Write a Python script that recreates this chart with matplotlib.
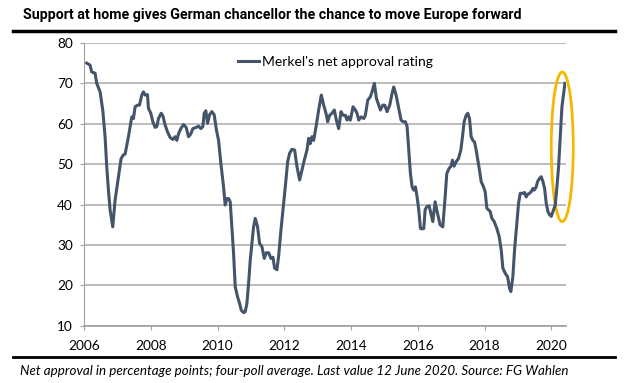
import matplotlib
matplotlib.use('Agg')
import matplotlib.pyplot as plt
from matplotlib.lines import Line2D
from matplotlib.patches import Ellipse

# data (decimal year, net approval)
years = [2006.08, 2006.18, 2006.23, 2006.33, 2006.38, 2006.48, 2006.56, 2006.63, 2006.68, 2006.73,
         2006.78, 2006.86, 2006.93, 2007.03, 2007.11, 2007.18, 2007.23, 2007.33, 2007.43, 2007.48,
         2007.53, 2007.60, 2007.66, 2007.73, 2007.78, 2007.83, 2007.90, 2007.93, 2008.00, 2008.06,
         2008.13, 2008.18, 2008.23, 2008.31, 2008.36, 2008.43, 2008.50, 2008.58, 2008.66, 2008.73,
         2008.78, 2008.83, 2008.90, 2008.98, 2009.06, 2009.13, 2009.20, 2009.26, 2009.36, 2009.43,
         2009.50, 2009.56, 2009.60, 2009.65, 2009.70, 2009.76, 2009.83, 2009.90, 2009.96, 2010.03,
         2010.10, 2010.18, 2010.23, 2010.28, 2010.33, 2010.38, 2010.43, 2010.48, 2010.53, 2010.60,
         2010.66, 2010.71, 2010.78, 2010.83, 2010.88, 2010.93, 2010.98, 2011.08, 2011.13, 2011.20,
         2011.26, 2011.33, 2011.40, 2011.46, 2011.53, 2011.60, 2011.66, 2011.71, 2011.78, 2011.83,
         2011.90, 2011.98, 2012.05, 2012.10, 2012.16, 2012.23, 2012.31, 2012.38, 2012.46, 2012.53,
         2012.60, 2012.68, 2012.73, 2012.78, 2012.83, 2012.88, 2012.95, 2013.03, 2013.11, 2013.18,
         2013.25, 2013.30, 2013.36, 2013.43, 2013.50, 2013.56, 2013.63, 2013.70, 2013.76, 2013.83,
         2013.88, 2013.93, 2013.98, 2014.06, 2014.13, 2014.18, 2014.23, 2014.30, 2014.38, 2014.43,
         2014.50, 2014.58, 2014.63, 2014.70, 2014.76, 2014.83, 2014.88, 2014.95, 2015.01, 2015.08,
         2015.16, 2015.23, 2015.28, 2015.35, 2015.43, 2015.50, 2015.56, 2015.63, 2015.68, 2015.73,
         2015.78, 2015.83, 2015.88, 2015.93, 2015.98, 2016.03, 2016.08, 2016.13, 2016.18, 2016.22,
         2016.27, 2016.34, 2016.45, 2016.52, 2016.59, 2016.67, 2016.75, 2016.82, 2016.87, 2016.94,
         2016.99, 2017.04, 2017.09, 2017.15, 2017.22, 2017.29, 2017.34, 2017.39, 2017.45, 2017.50,
         2017.55, 2017.60, 2017.65, 2017.70, 2017.75, 2017.80, 2017.85, 2017.90, 2017.97, 2018.02,
         2018.07, 2018.12, 2018.17, 2018.22, 2018.29, 2018.37, 2018.44, 2018.50, 2018.55, 2018.62,
         2018.69, 2018.75, 2018.79, 2018.85, 2018.90, 2018.95, 2019.02, 2019.07, 2019.15, 2019.20,
         2019.25, 2019.30, 2019.35, 2019.40, 2019.45, 2019.49, 2019.55, 2019.59, 2019.65, 2019.70,
         2019.75, 2019.80, 2019.85, 2019.90, 2019.95, 2020.00, 2020.05, 2020.12, 2020.17, 2020.22,
         2020.27, 2020.32, 2020.37, 2020.41]
approval = [75.0, 74.5, 72.8, 72.5, 70.0, 67.9, 63.4, 56.8, 49.4, 43.6,
            38.7, 34.5, 41.1, 46.9, 51.4, 52.3, 52.5, 56.8, 61.7, 61.3,
            64.2, 64.6, 64.6, 67.1, 67.9, 67.1, 67.2, 63.8, 62.6, 60.5,
            59.1, 59.3, 61.3, 62.6, 62.0, 59.7, 58.0, 56.6, 56.1, 56.8,
            55.9, 57.5, 58.8, 59.8, 59.1, 56.8, 57.5, 58.8, 59.1, 59.4,
            58.8, 59.3, 62.6, 63.2, 60.1, 62.2, 63.0, 62.2, 58.8, 55.9,
            50.2, 44.4, 39.9, 41.5, 41.5, 40.7, 34.5, 28.0, 19.7, 17.2,
            15.6, 13.9, 13.3, 13.5, 15.6, 20.5, 26.3, 34.5, 36.6, 34.5,
            30.4, 29.6, 26.7, 28.1, 28.1, 26.7, 27.0, 24.3, 23.9, 27.2,
            33.7, 40.3, 46.1, 50.6, 52.7, 53.7, 53.5, 49.4, 46.1, 48.5,
            51.0, 53.5, 56.4, 55.1, 56.8, 55.9, 59.2, 63.4, 67.1, 64.6,
            62.6, 60.5, 62.1, 62.6, 63.4, 60.9, 58.8, 63.0, 62.1, 62.1,
            60.9, 61.7, 60.9, 64.2, 63.4, 62.6, 60.9, 61.7, 61.3, 62.1,
            65.8, 66.7, 67.9, 70.0, 66.3, 64.6, 63.4, 64.6, 64.6, 63.0,
            64.6, 67.5, 69.1, 67.1, 63.8, 60.9, 60.5, 60.5, 59.3, 53.5,
            47.7, 44.4, 43.6, 44.4, 41.9, 38.7, 34.1, 34.0, 34.1, 38.7,
            39.5, 39.7, 35.8, 40.7, 37.9, 35.0, 34.5, 41.9, 47.7, 49.0,
            49.4, 51.0, 49.5, 50.6, 51.4, 53.5, 56.8, 60.5, 62.1, 62.6,
            61.3, 56.8, 55.9, 55.5, 53.5, 51.0, 48.5, 45.7, 44.4, 43.2,
            39.1, 38.7, 38.3, 36.6, 35.8, 34.1, 32.1, 28.8, 24.3, 23.0,
            22.2, 19.3, 18.5, 22.2, 28.8, 33.7, 40.3, 42.8, 42.8, 43.0,
            41.9, 42.6, 42.8, 43.2, 44.0, 43.6, 44.4, 45.7, 46.5, 46.9,
            45.7, 44.0, 40.3, 38.3, 37.5, 37.1, 38.3, 39.9, 44.4, 49.4,
            56.8, 64.2, 67.5, 70.0]

xticks = [2006, 2008, 2010, 2012, 2014, 2016, 2018, 2020]
yticks = [10, 20, 30, 40, 50, 60, 70, 80]

title = 'Support at home gives German chancellor the chance to move Europe forward'
caption = 'Net approval in percentage points; four-poll average. Last value 12 June 2020. Source: FG Wahlen'

plt.rcParams['font.family'] = ['Lato', 'DejaVu Sans']

fig = plt.figure(figsize=(6.32, 3.83), dpi=100)
ax = fig.add_axes([0.133, 0.149, 0.763, 0.739])

ax.plot(years, approval, color='#44546a', lw=2.2, label="Merkel's net approval rating")

# highlight of the latest jump
ax.add_patch(Ellipse((2020.33, 54.3), 0.66, 37, fill=False, ec='#f5b700', lw=2, clip_on=False))

ax.set_xlim(2006, 2020.45)
ax.set_ylim(10, 80)
ax.set_xticks(xticks)
ax.set_yticks(yticks)
ax.yaxis.grid(True, color='#b0b0b0', lw=1.2)
ax.set_axisbelow(True)
for s in ['top', 'right']:
    ax.spines[s].set_visible(False)
ax.spines['left'].set_color('#a0a0a0')
ax.spines['bottom'].set_color('#a0a0a0')
ax.spines['bottom'].set_linewidth(1.2)
ax.tick_params(colors='#a0a0a0', labelcolor='black', labelsize=9.8, length=3)
ax.tick_params(axis='y', pad=5)
ax.tick_params(axis='x', pad=7)

ax.legend(loc='center left', bbox_to_anchor=(0.32, 0.932), frameon=False,
          fontsize=10, handlelength=1.5, handletextpad=0.2, borderpad=0, borderaxespad=0)

fig.text(0.036, 0.96, title, fontsize=10.2, fontweight='bold', family='Roboto', va='center')
fig.text(0.032, 0.031, caption, fontsize=9.6, style='italic', va='center')

# black rules above and below the chart
fig.add_artist(Line2D([0.02, 0.973], [0.92, 0.92], color='black', lw=2.5))
fig.add_artist(Line2D([0.02, 0.973], [0.069, 0.069], color='black', lw=2))

fig.savefig('out.png', dpi=100)
